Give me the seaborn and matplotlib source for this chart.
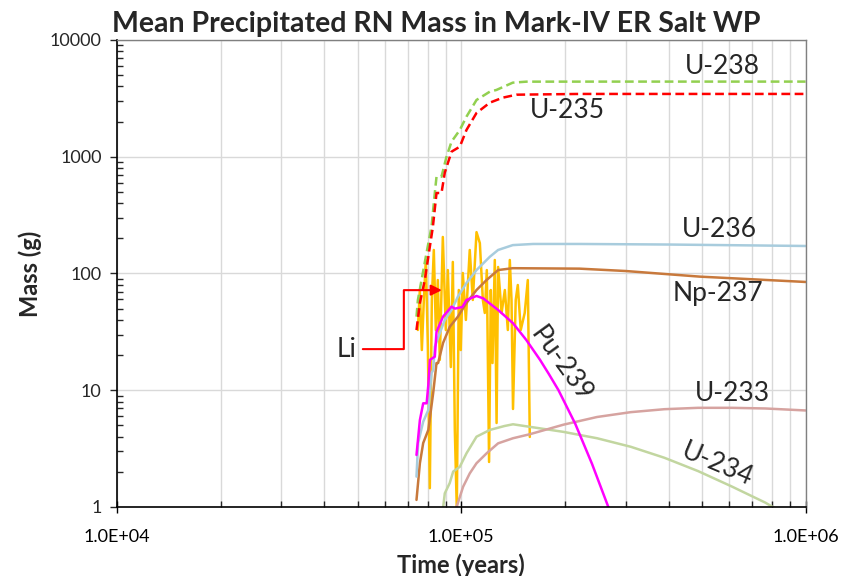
import matplotlib
matplotlib.use('Agg')
import matplotlib.pyplot as plt
from matplotlib.ticker import LogLocator, NullFormatter, FixedLocator, FixedFormatter
import seaborn as sns

# values (time in years, mass in g)
u238_t = [74100, 74800, 76650, 79250, 81950, 83760, 84720, 87590, 90570, 93670,
          99000, 103500, 110700, 121000, 126500, 141100, 154500, 300000, 1e6]
u238_m = [42.7, 59.3, 87.9, 150, 252, 489, 675, 675, 1000, 1346,
          1694, 2203, 3063, 3608, 3733, 4310, 4395, 4400, 4400]

u235_t = [74100, 75800, 78340, 81030, 82670, 84720, 87590, 89540, 93670, 99000,
          103500, 110700, 121000, 131900, 144600, 220600, 1e6]
u235_m = [32.8, 55.9, 87.9, 170, 250, 489, 489, 731, 1105, 1219,
          1694, 2371, 2904, 3204, 3399, 3450, 3450]

u236_t = [74100, 74900, 77500, 80200, 81030, 81950, 82850, 83760, 86600, 89540,
          93670, 97740, 103500, 110700, 121000, 127900, 141100, 161700, 220600, 400000, 1e6]
u236_m = [1.82, 3.53, 5.38, 6.77, 9.47, 14.05, 14.9, 23.6, 30.9, 40,
          48.7, 63.3, 82.9, 107, 139, 159, 175, 179, 179, 177, 172]

np237_t = [74100, 75800, 77500, 80200, 82850, 84720, 85630, 88500, 92600, 97740,
           103500, 110700, 118400, 127900, 141100, 220600, 300000, 492500, 1e6]
np237_m = [1.15, 2.37, 3.53, 4.57, 9.47, 17.1, 17.1, 25.4, 35, 42.7,
           55.9, 72.2, 87.9, 107, 111, 110, 105, 94, 84.6]

pu239_t = [74100, 75800, 77500, 79300, 80200, 81030, 83760, 84720, 88500, 93670,
           95800, 100700, 103500, 110700, 115700, 127900, 141300, 154500, 169300,
           179500, 191400, 214200, 239700, 268000, 279000]
pu239_m = [2.79, 5.55, 7.73, 7.73, 11.1, 18.2, 19.4, 31.7, 42.7, 52,
           50, 51.6, 59.3, 64.2, 61.3, 48.7, 37.5, 26.9, 18.2,
           13.8, 10.05, 5.17, 2.34, 0.98, 0.73]

u233_t = [95500, 96900, 101200, 105800, 110700, 118400, 127900, 141300, 158100,
          198000, 247900, 310500, 388900, 487200, 609900, 763800, 1e6]
u233_m = [0.9, 1.0, 1.49, 1.94, 2.37, 2.88, 3.51, 3.88, 4.2,
          5.07, 5.90, 6.49, 6.88, 7.07, 7.07, 6.98, 6.71]

u234_t = [88000, 89540, 92520, 94700, 99000, 103500, 110700, 121000, 133500, 141300,
          158100, 198000, 247900, 310500, 388900, 487200, 609900, 763800, 807300, 865000]
u234_m = [0.85, 1.31, 1.6, 2.01, 2.21, 2.88, 4.0, 4.57, 4.94, 5.11,
          4.86, 4.40, 3.88, 3.28, 2.64, 2.03, 1.50, 1.09, 0.99, 0.9]

li_t = [74770, 75780, 76800, 77830, 78880, 79930, 81010, 82100, 83200, 84330,
        85460, 86610, 88370, 90160, 91380, 93230, 94480, 95750, 97030, 98330,
        99650, 101000, 103100, 105800, 108000, 110700, 113200, 115500, 117000, 118600,
        120400, 121800, 123200, 125100, 126600, 127900, 130900, 133800, 136500, 138300,
        139900, 141300, 143900, 145900, 148800, 152800, 156000, 158100]
li_m = [32.8, 72.2, 22.1, 59.3, 130.5, 24.4, 1.45, 59.3, 159, 32.8,
        87.9, 18.2, 205.5, 32.8, 107, 15.8, 125.6, 4.57, 0.95, 72.2,
        22.1, 101, 40, 159, 59.3, 226, 182, 59.3, 45.9, 107,
        2.43, 72.2, 17.1, 130.5, 5.24, 113.7, 45.9, 72.2, 32.8, 130.5,
        59.3, 6.91, 59.3, 79.7, 32.8, 45.9, 87.9, 3.98]

series = [
    (li_t, li_m, '#FFC000', None),
    (u234_t, u234_m, '#C2D6A0', None),
    (u233_t, u233_m, '#D6A3A0', None),
    (np237_t, np237_m, '#C8793C', None),
    (u236_t, u236_m, '#A8CCDD', None),
    (pu239_t, pu239_m, '#FF00FF', None),
    (u238_t, u238_m, '#92D050', (3.5, 1.8)),
    (u235_t, u235_m, '#FF0000', (3.5, 1.8)),
]

labels = [
    ('U-238', 574000, 5985, 0),
    ('U-235', 203700, 2466, 0),
    ('U-236', 562000, 236, 0),
    ('Np-237', 556000, 66.8, 0),
    ('Pu-239', 194500, 16.5, -54),
    ('U-233', 614000, 9.47, 0),
    ('U-234', 556000, 2.29, -23),
]

sns.set_style('white')
plt.rcParams['font.family'] = ['Lato', 'DejaVu Sans']

fig, ax = plt.subplots(figsize=(8.48, 5.76), dpi=100)
fig.subplots_adjust(left=0.138, right=0.950, top=0.9306, bottom=0.1198)

for t, m, c, dash in series:
    sns.lineplot(x=t, y=m, ax=ax, color=c, lw=1.8, sort=False, estimator=None)
    if dash is not None:
        ax.lines[-1].set_dashes(dash)

ax.set_xscale('log')
ax.set_yscale('log')
ax.set_xlim(1e4, 1e6)
ax.set_ylim(1, 1e4)

ax.xaxis.set_major_locator(FixedLocator([1e4, 1e5, 1e6]))
ax.xaxis.set_major_formatter(FixedFormatter(['1.0E+04', '1.0E+05', '1.0E+06']))
ax.xaxis.set_minor_locator(LogLocator(base=10, subs=range(2, 10)))
ax.xaxis.set_minor_formatter(NullFormatter())
ax.yaxis.set_major_locator(FixedLocator([1, 10, 100, 1000, 10000]))
ax.yaxis.set_major_formatter(FixedFormatter(['1', '10', '100', '1000', '10000']))
ax.yaxis.set_minor_locator(LogLocator(base=10, subs=range(2, 10)))
ax.yaxis.set_minor_formatter(NullFormatter())

ax.grid(True, which='both', axis='x', color='#D9D9D9', lw=1)
ax.grid(True, which='major', axis='y', color='#D9D9D9', lw=1)
ax.set_axisbelow(True)

ax.tick_params(axis='x', which='major', direction='inout', length=8, width=1,
               labelsize=13, pad=12, colors='black')
ax.tick_params(axis='x', which='minor', direction='in', length=4, width=1)
ax.tick_params(axis='y', which='major', direction='out', length=5, width=1,
               labelsize=13, pad=6)
ax.tick_params(axis='y', which='minor', direction='in', length=4, width=1)
ax.tick_params(bottom=True, left=True, which='both')

for s in ['left', 'bottom']:
    ax.spines[s].set_color('black')
    ax.spines[s].set_linewidth(1.2)
for s in ['top', 'right']:
    ax.spines[s].set_color('#808080')
    ax.spines[s].set_linewidth(1)

for text, x, y, rot in labels:
    ax.text(x, y, text, fontsize=19, ha='center', va='center', rotation=rot)

# arms are given in pixels here
ax.annotate('Li', xy=(87800, 72), xytext=(46500, 22.5), fontsize=19,
            ha='center', va='center',
            arrowprops=dict(arrowstyle='-|>', color='red', lw=1.5, mutation_scale=16,
                            connectionstyle='arc,angleA=0,angleB=180,armA=57,armB=38,rad=0',
                            shrinkA=2, shrinkB=0))

# title sits a bit left of the axes centre, like the original
ax.set_title('Mean Precipitated RN Mass in Mark-IV ER Salt WP',
             fontsize=20.5, fontweight='bold', pad=6, x=0.463)
ax.set_xlabel('Time (years)', fontsize=17, fontweight='bold', labelpad=6)
ax.set_ylabel('Mass (g)', fontsize=17, fontweight='bold', labelpad=6)

fig.savefig('out.png', dpi=100)
